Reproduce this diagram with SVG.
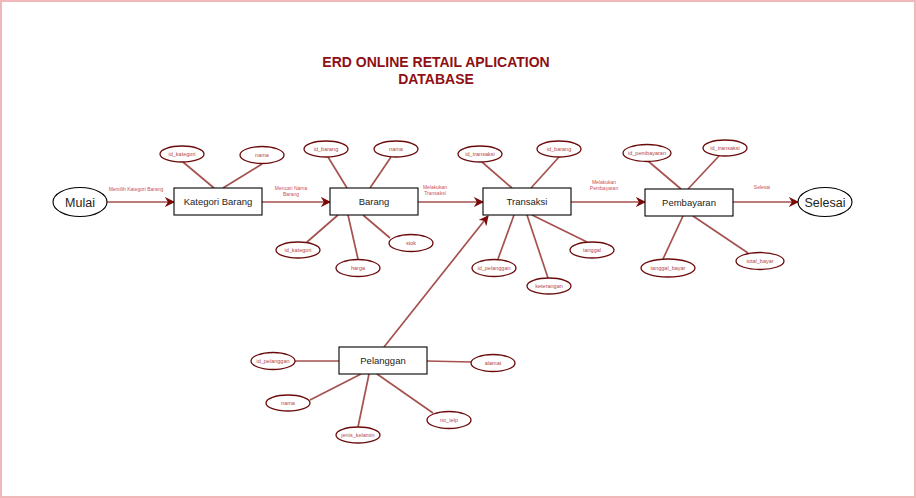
<svg xmlns="http://www.w3.org/2000/svg" width="916" height="498" viewBox="0 0 916 498">
<style>
.ln{stroke:#A5524E;stroke-width:1.7;fill:none}
.ar{stroke:#A5524E;stroke-width:1.7;fill:none;marker-end:url(#ah)}
.at{fill:#fff;stroke:#6B0A0A;stroke-width:1.3}
.att{font-family:"Liberation Sans",Arial,sans-serif;font-size:5.5px;fill:#B84545;text-anchor:middle}
.ent{fill:#fff;stroke:#000;stroke-width:1.1}
.ett{font-family:"Liberation Sans",Arial,sans-serif;font-size:9.5px;fill:#222;text-anchor:middle}
.term{fill:#fff;stroke:#000;stroke-width:1.1}
.tt{font-family:"Liberation Sans",Arial,sans-serif;font-size:12.5px;fill:#222;text-anchor:middle}
.lb{font-family:"Liberation Sans",Arial,sans-serif;font-size:5px;fill:#D05050;text-anchor:middle}
.ttl{font-family:"Liberation Sans",Arial,sans-serif;font-size:14px;font-weight:bold;fill:#8E0F14;text-anchor:middle}
</style>
<defs>
<marker id="ah" viewBox="0 0 10 10" refX="9" refY="5" markerWidth="6" markerHeight="6" orient="auto" markerUnits="strokeWidth">
<path d="M0,0 L10,5 L0,10 L3,5 z" fill="#7A0A0A"/>
</marker>
</defs>
<rect x="1" y="1" width="914" height="496" fill="#fff" stroke="#F0B8B8" stroke-width="2"/>
<g id="title">
<text class="ttl" x="436" y="67">ERD ONLINE RETAIL APLICATION</text>
<text class="ttl" x="436" y="84">DATABASE</text>
</g>
<g id="connectors">
<line class="ar" x1="107" y1="202" x2="174" y2="202"/>
<line class="ar" x1="262" y1="202" x2="330" y2="202"/>
<line class="ar" x1="418" y1="202" x2="483" y2="202"/>
<line class="ar" x1="571" y1="202" x2="645" y2="202"/>
<line class="ar" x1="733" y1="202" x2="798" y2="202"/>
<line class="ar" x1="384" y1="347" x2="488" y2="216"/>
<line class="ln" x1="183" y1="162" x2="214" y2="188"/>
<line class="ln" x1="262" y1="164" x2="223" y2="188"/>
<line class="ln" x1="328" y1="157" x2="347" y2="188"/>
<line class="ln" x1="391" y1="157" x2="370" y2="188"/>
<line class="ln" x1="307" y1="242" x2="338" y2="215"/>
<line class="ln" x1="358" y1="259" x2="348" y2="215"/>
<line class="ln" x1="390" y1="238" x2="363" y2="215"/>
<line class="ln" x1="482" y1="162" x2="512" y2="188"/>
<line class="ln" x1="559" y1="157" x2="531" y2="188"/>
<line class="ln" x1="587" y1="242" x2="532" y2="215"/>
<line class="ln" x1="498" y1="259" x2="514" y2="215"/>
<line class="ln" x1="548" y1="278" x2="527" y2="215"/>
<line class="ln" x1="648" y1="161" x2="681" y2="189"/>
<line class="ln" x1="719" y1="156" x2="688" y2="189"/>
<line class="ln" x1="663" y1="259" x2="683" y2="216"/>
<line class="ln" x1="748" y1="253" x2="693" y2="216"/>
<line class="ln" x1="295" y1="361" x2="339" y2="361"/>
<line class="ln" x1="427" y1="361" x2="471" y2="362"/>
<line class="ln" x1="310" y1="400" x2="361" y2="374"/>
<line class="ln" x1="358" y1="427" x2="369" y2="374"/>
<line class="ln" x1="433" y1="413" x2="377" y2="374"/>
<text class="lb" x="136" y="191">Memilih Kategori Barang</text>
<text class="lb" x="291" y="190">Mencari Nama</text>
<text class="lb" x="291" y="196">Barang</text>
<text class="lb" x="435" y="189">Melakukan</text>
<text class="lb" x="435" y="195">Transaksi</text>
<text class="lb" x="604" y="184">Melakukan</text>
<text class="lb" x="604" y="190">Pembayaran</text>
<text class="lb" x="762" y="189">Selesai</text>
</g>
<g id="mulai"><ellipse class="term" cx="80" cy="202" rx="27" ry="14.5"/><text class="tt" x="80" y="206.5">Mulai</text></g>
<g id="selesai"><ellipse class="term" cx="825" cy="202" rx="27" ry="14.5"/><text class="tt" x="825" y="206.5">Selesai</text></g>
<g id="kategori_barang"><rect class="ent" x="174" y="188" width="88" height="27"/><text class="ett" x="218" y="205">Kategori Barang</text></g>
<g id="barang"><rect class="ent" x="330" y="188" width="88" height="27"/><text class="ett" x="374" y="205">Barang</text></g>
<g id="transaksi"><rect class="ent" x="483" y="188" width="88" height="27"/><text class="ett" x="527" y="205">Transaksi</text></g>
<g id="pembayaran"><rect class="ent" x="645" y="189" width="88" height="27"/><text class="ett" x="689" y="206">Pembayaran</text></g>
<g id="pelanggan"><rect class="ent" x="339" y="347" width="88" height="27"/><text class="ett" x="383" y="364">Pelanggan</text></g>
<g id="kb_id_kategori"><ellipse class="at" cx="182" cy="154" rx="22" ry="8"/><text class="att" x="182" y="156">id_kategori</text></g>
<g id="kb_nama"><ellipse class="at" cx="262" cy="155" rx="22" ry="8.5"/><text class="att" x="262" y="157">nama</text></g>
<g id="b_id_barang"><ellipse class="at" cx="326" cy="149" rx="22" ry="8"/><text class="att" x="326" y="151">id_barang</text></g>
<g id="b_nama"><ellipse class="at" cx="396" cy="149" rx="22" ry="8"/><text class="att" x="396" y="151">nama</text></g>
<g id="b_id_kategori"><ellipse class="at" cx="298" cy="250" rx="22" ry="8"/><text class="att" x="298" y="252">id_kategori</text></g>
<g id="b_harga"><ellipse class="at" cx="358" cy="268" rx="22" ry="8.5"/><text class="att" x="358" y="270">harga</text></g>
<g id="b_stok"><ellipse class="at" cx="411" cy="243" rx="22" ry="8.5"/><text class="att" x="411" y="245">stok</text></g>
<g id="t_id_transaksi"><ellipse class="at" cx="480" cy="154" rx="22" ry="8"/><text class="att" x="480" y="156">id_transaksi</text></g>
<g id="t_id_barang"><ellipse class="at" cx="559" cy="149" rx="22" ry="8"/><text class="att" x="559" y="151">id_barang</text></g>
<g id="t_tanggal"><ellipse class="at" cx="592" cy="250" rx="22" ry="8"/><text class="att" x="592" y="252">tanggal</text></g>
<g id="t_id_pelanggan"><ellipse class="at" cx="494" cy="268" rx="22" ry="8.5"/><text class="att" x="494" y="270">id_pelanggan</text></g>
<g id="t_keterangan"><ellipse class="at" cx="549" cy="286" rx="22" ry="8"/><text class="att" x="549" y="288">keterangan</text></g>
<g id="p_id_pembayaran"><ellipse class="at" cx="647" cy="153" rx="24" ry="8.5"/><text class="att" x="647" y="155">id_pembayaran</text></g>
<g id="p_id_transaksi"><ellipse class="at" cx="725" cy="148" rx="22" ry="8"/><text class="att" x="725" y="150">id_transaksi</text></g>
<g id="p_tanggal_bayar"><ellipse class="at" cx="668" cy="268" rx="27" ry="9"/><text class="att" x="668" y="270">tanggal_bayar</text></g>
<g id="p_total_bayar"><ellipse class="at" cx="760" cy="261" rx="24" ry="8.5"/><text class="att" x="760" y="263">total_bayar</text></g>
<g id="pl_id_pelanggan"><ellipse class="at" cx="273" cy="361" rx="22" ry="8.5"/><text class="att" x="273" y="363">id_pelanggan</text></g>
<g id="pl_alamat"><ellipse class="at" cx="493" cy="363" rx="22" ry="8.5"/><text class="att" x="493" y="365">alamat</text></g>
<g id="pl_nama"><ellipse class="at" cx="288" cy="403" rx="22" ry="8"/><text class="att" x="288" y="405">nama</text></g>
<g id="pl_jenis_kelamin"><ellipse class="at" cx="358" cy="435" rx="22" ry="8"/><text class="att" x="358" y="437">jenis_kelamin</text></g>
<g id="pl_no_telp"><ellipse class="at" cx="449" cy="420" rx="22" ry="8.5"/><text class="att" x="449" y="422">no_telp</text></g>
</svg>
